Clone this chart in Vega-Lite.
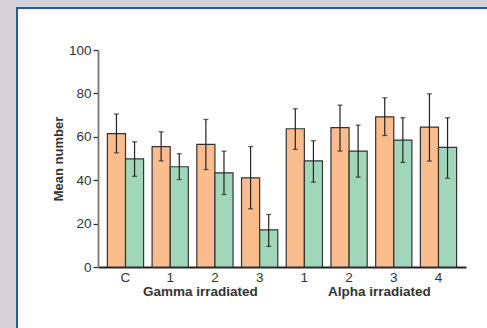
{
  "$schema": "https://vega.github.io/schema/vega-lite/v6.json",
  "width": 474,
  "height": 324,
  "autosize": {"type": "none"},
  "padding": {"left": 17, "top": 8, "right": -4, "bottom": -4},
  "background": "#d5d3d7",
  "config": {
    "view": {"fill": "white", "stroke": "#1f5ca6", "strokeWidth": 2},
    "font": "Liberation Sans",
    "axis": {"labelFont": "Liberation Sans", "titleFont": "Liberation Sans", "grid": false}
  },
  "datasets": {
    "bars": [
      {"cat": "G-C", "series": "a", "mean": 61.5, "lo": 52.6, "hi": 70.5},
      {"cat": "G-C", "series": "b", "mean": 49.8, "lo": 41.8, "hi": 57.7},
      {"cat": "G-1", "series": "a", "mean": 55.5, "lo": 48.9, "hi": 62.3},
      {"cat": "G-1", "series": "b", "mean": 46.2, "lo": 40.3, "hi": 52.2},
      {"cat": "G-2", "series": "a", "mean": 56.5, "lo": 44.9, "hi": 68.0},
      {"cat": "G-2", "series": "b", "mean": 43.4, "lo": 33.4, "hi": 53.4},
      {"cat": "G-3", "series": "a", "mean": 41.1, "lo": 26.8, "hi": 55.5},
      {"cat": "G-3", "series": "b", "mean": 17.1, "lo": 9.5, "hi": 24.2},
      {"cat": "A-1", "series": "a", "mean": 63.7, "lo": 54.2, "hi": 72.9},
      {"cat": "A-1", "series": "b", "mean": 48.9, "lo": 39.1, "hi": 58.2},
      {"cat": "A-2", "series": "a", "mean": 64.2, "lo": 53.4, "hi": 74.6},
      {"cat": "A-2", "series": "b", "mean": 53.4, "lo": 41.4, "hi": 65.4},
      {"cat": "A-3", "series": "a", "mean": 69.2, "lo": 60.6, "hi": 78.0},
      {"cat": "A-3", "series": "b", "mean": 58.5, "lo": 48.2, "hi": 68.8},
      {"cat": "A-4", "series": "a", "mean": 64.5, "lo": 48.8, "hi": 79.8},
      {"cat": "A-4", "series": "b", "mean": 55.1, "lo": 40.9, "hi": 68.8}
    ],
    "groups": [
      {"cat": "G-2", "label": "Gamma irradiated", "pos": -11.4},
      {"cat": "A-3", "label": "Alpha irradiated", "pos": -11.4}
    ]
  },
  "encoding": {
    "x": {
      "field": "cat",
      "type": "nominal",
      "sort": null,
      "scale": {
        "domain": ["G-C", "G-1", "G-2", "G-3", "A-1", "A-2", "A-3", "A-4"],
        "range": [81, 449],
        "paddingInner": 0.19,
        "paddingOuter": 0.21
      },
      "axis": {
        "title": null,
        "offset": -65,
        "labelAngle": 0,
        "labelExpr": "slice(datum.label, 2)",
        "labelFontSize": 13.5,
        "labelColor": "#333",
        "labelPadding": 3,
        "ticks": false,
        "domainColor": "#222",
        "domainWidth": 1.8
      }
    }
  },
  "layer": [
    {
      "data": {"name": "bars"},
      "mark": {"type": "bar", "stroke": "#333", "strokeWidth": 1.2},
      "encoding": {
        "xOffset": {"field": "series", "type": "nominal", "sort": ["a", "b"]},
        "y": {
          "field": "mean",
          "type": "quantitative",
          "scale": {"domain": [0, 100], "range": [259, 42], "nice": false, "zero": true},
          "axis": {
            "title": "Mean number",
            "offset": -81,
            "values": [0, 20, 40, 60, 80, 100],
            "domainColor": "#777",
            "domainWidth": 1.8,
            "tickColor": "#333",
            "tickSize": 5,
            "tickWidth": 1.3,
            "labelFontSize": 13.5,
            "labelColor": "#333",
            "labelPadding": 2,
            "titleFontSize": 13,
            "titleFontWeight": "bold",
            "titleColor": "#333",
            "titlePadding": 3
          }
        },
        "color": {
          "field": "series",
          "type": "nominal",
          "scale": {"domain": ["a", "b"], "range": ["#fbbd8d", "#a0d6ba"]},
          "legend": null
        }
      }
    },
    {
      "data": {"name": "bars"},
      "mark": {"type": "rule", "color": "#222", "strokeWidth": 1.2},
      "encoding": {
        "xOffset": {"field": "series", "type": "nominal", "sort": ["a", "b"]},
        "y": {"field": "lo", "type": "quantitative"},
        "y2": {"field": "hi"}
      }
    },
    {
      "data": {"name": "bars"},
      "mark": {"type": "tick", "color": "#222", "size": 5, "thickness": 1.3, "orient": "horizontal"},
      "encoding": {
        "xOffset": {"field": "series", "type": "nominal", "sort": ["a", "b"]},
        "y": {"field": "lo", "type": "quantitative"}
      }
    },
    {
      "data": {"name": "bars"},
      "mark": {"type": "tick", "color": "#222", "size": 5, "thickness": 1.3, "orient": "horizontal"},
      "encoding": {
        "xOffset": {"field": "series", "type": "nominal", "sort": ["a", "b"]},
        "y": {"field": "hi", "type": "quantitative"}
      }
    },
    {
      "data": {"name": "groups"},
      "mark": {"type": "text", "fontSize": 13.5, "fontWeight": "bold", "color": "#333", "baseline": "middle", "align": "center"},
      "encoding": {
        "x": {"field": "cat", "type": "nominal", "bandPosition": 0.1},
        "y": {"field": "pos", "type": "quantitative"},
        "text": {"field": "label"}
      }
    }
  ]
}
